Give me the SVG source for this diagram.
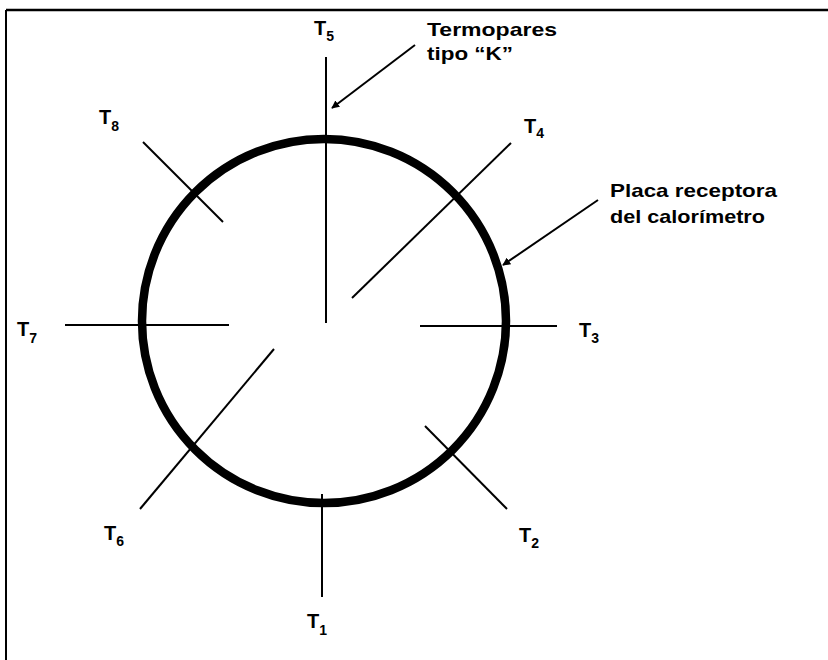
<svg xmlns="http://www.w3.org/2000/svg" width="828" height="660" viewBox="0 0 828 660">
<defs>
<style>
.lbl{font-family:"Liberation Sans",Arial,sans-serif;font-weight:bold;font-size:19px;fill:#000}
.t{font-family:"Liberation Sans",Arial,sans-serif;font-weight:bold;font-size:20px;fill:#000}
.sub{font-size:14px}
.ln{stroke:#000;stroke-width:2;fill:none}
</style>
<marker id="ah" viewBox="0 0 10 10" refX="9" refY="5" markerWidth="8" markerHeight="8" markerUnits="userSpaceOnUse" orient="auto">
<path d="M0,0 L10,5 L0,10 z" fill="#000"/>
</marker>
</defs>
<rect width="828" height="660" fill="#fff"/>
<g id="frame">
<line x1="6" y1="10" x2="828" y2="10" stroke="#000" stroke-width="2.5"/>
<line x1="6" y1="10" x2="6" y2="660" stroke="#000" stroke-width="2"/>
</g>
<g id="plate">
<circle cx="324" cy="321" r="182" fill="none" stroke="#000" stroke-width="8.5"/>
</g>
<g id="connectors">
<line class="ln" x1="326" y1="57" x2="326" y2="323"/>
<line class="ln" x1="65" y1="325" x2="229" y2="325"/>
<line class="ln" x1="420" y1="326" x2="557" y2="326"/>
<line class="ln" x1="322" y1="494" x2="322" y2="597"/>
<line class="ln" x1="352" y1="298" x2="511" y2="143"/>
<line class="ln" x1="274" y1="349" x2="140" y2="509"/>
<line class="ln" x1="143" y1="142" x2="223" y2="222"/>
<line class="ln" x1="425" y1="426" x2="507" y2="509"/>
<line class="ln" x1="415" y1="45" x2="332" y2="108" stroke-width="1.5" marker-end="url(#ah)"/>
<line class="ln" x1="598" y1="200" x2="503" y2="265" stroke-width="1.5" marker-end="url(#ah)"/>
</g>
<g id="T5"><text class="t" x="314" y="35">T<tspan class="sub" dy="6">5</tspan></text></g>
<g id="T4"><text class="t" x="524" y="133">T<tspan class="sub" dy="5">4</tspan></text></g>
<g id="T8"><text class="t" x="99" y="124">T<tspan class="sub" dy="7">8</tspan></text></g>
<g id="T7"><text class="t" x="17" y="336">T<tspan class="sub" dy="7">7</tspan></text></g>
<g id="T3"><text class="t" x="579" y="337">T<tspan class="sub" dy="6">3</tspan></text></g>
<g id="T6"><text class="t" x="104" y="540">T<tspan class="sub" dy="6">6</tspan></text></g>
<g id="T1"><text class="t" x="307" y="628">T<tspan class="sub" dy="7">1</tspan></text></g>
<g id="T2"><text class="t" x="519" y="542">T<tspan class="sub" dy="6">2</tspan></text></g>
<g id="termopares-label">
<text class="lbl" x="427" y="36" textLength="130" lengthAdjust="spacingAndGlyphs">Termopares</text>
<text class="lbl" x="427" y="60" textLength="86" lengthAdjust="spacingAndGlyphs">tipo “K”</text>
</g>
<g id="placa-label">
<text class="lbl" x="610" y="197" textLength="167" lengthAdjust="spacingAndGlyphs">Placa receptora</text>
<text class="lbl" x="610" y="223" textLength="155" lengthAdjust="spacingAndGlyphs">del calorímetro</text>
</g>
</svg>
